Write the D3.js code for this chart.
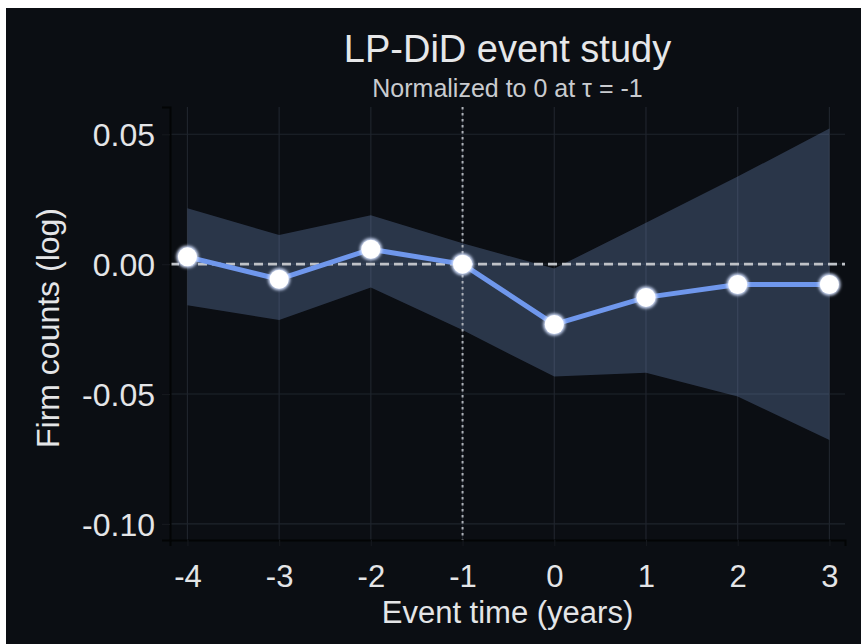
<!DOCTYPE html>
<html>
<head>
<meta charset="utf-8">
<script src="https://cdn.jsdelivr.net/npm/d3@7"></script>
<style>
  body { margin: 0; background: #ffffff; }
  svg { display: block; font-family: "Liberation Sans", Arial, sans-serif; }
</style>
</head>
<body>
<script>
// event study data
var eventTimes = [-4, -3, -2, -1, 0, 1, 2, 3];
var estimates  = [0.0028, -0.0058, 0.0057, 0.0, -0.0232, -0.0128, -0.0078, -0.0078];
var upperCI    = [0.0215, 0.0112, 0.0188, 0.0080, -0.0017, 0.0159, 0.0337, 0.0522];
var lowerCI    = [-0.0158, -0.0215, -0.0090, -0.0254, -0.0433, -0.0418, -0.0510, -0.0677];
var yTicks = [0.05, 0.00, -0.05, -0.10];
var xTicks = [-4, -3, -2, -1, 0, 1, 2, 3];
var refTime = -1;

var width = 861, height = 644;
var margin = {top: 107, left: 170, right: 16, bottom: 104};

var svg = d3.select("body").append("svg")
    .attr("width", width)
    .attr("height", height);

// dark figure background (thin white border on the top/left like the source)
svg.append("rect")
    .attr("x", 6).attr("y", 8)
    .attr("width", width - 6).attr("height", height - 8)
    .attr("fill", "#0b0e13");

var x = d3.scaleLinear()
    .domain([-4.19, 3.17])
    .range([margin.left, width - margin.right]);

var y = d3.scaleLinear()
    .domain([-0.1062, 0.0605])
    .range([height - margin.bottom, margin.top]);

var rows = eventTimes.map(function(t, i) {
    return {t: t, est: estimates[i], hi: upperCI[i], lo: lowerCI[i]};
});

// grid
var grid = svg.append("g").attr("class", "grid");
grid.selectAll("line.v")
    .data(xTicks)
  .enter().append("line")
    .attr("class", "v")
    .attr("x1", function(d) { return x(d); })
    .attr("x2", function(d) { return x(d); })
    .attr("y1", y.range()[1])
    .attr("y2", y.range()[0])
    .attr("stroke", "#1f242c")
    .attr("stroke-width", 1.2);
grid.selectAll("line.h")
    .data(yTicks)
  .enter().append("line")
    .attr("class", "h")
    .attr("x1", x.range()[0])
    .attr("x2", x.range()[1])
    .attr("y1", function(d) { return y(d); })
    .attr("y2", function(d) { return y(d); })
    .attr("stroke", "#1f242c")
    .attr("stroke-width", 1.2);

// confidence band
var band = d3.area()
    .x(function(d) { return x(d.t); })
    .y0(function(d) { return y(d.lo); })
    .y1(function(d) { return y(d.hi); });

svg.append("path")
    .datum(rows)
    .attr("d", band)
    .attr("fill", "#7f9dd8")
    .attr("fill-opacity", 0.28);

// zero line
svg.append("line")
    .attr("x1", x.range()[0])
    .attr("x2", x.range()[1])
    .attr("y1", y(0))
    .attr("y2", y(0))
    .attr("stroke", "#bfc2c7")
    .attr("stroke-width", 2.6)
    .attr("stroke-dasharray", "9,5");

// reference period
svg.append("line")
    .attr("x1", x(refTime))
    .attr("x2", x(refTime))
    .attr("y1", y.range()[1])
    .attr("y2", y.range()[0])
    .attr("stroke", "#aeb2b9")
    .attr("stroke-width", 2)
    .attr("stroke-dasharray", "2.5,3.5");

// axes
var xAxis = d3.axisBottom(x)
    .tickValues(xTicks)
    .tickFormat(d3.format("d"))
    .tickSize(6)
    .tickPadding(19);

var yAxis = d3.axisLeft(y)
    .tickValues(yTicks)
    .tickFormat(function(d) { return d3.format(".2f")(d).replace("−", "-"); })
    .tickSize(8)
    .tickPadding(7);

var gx = svg.append("g")
    .attr("transform", "translate(0," + y.range()[0] + ")")
    .call(xAxis);

var gy = svg.append("g")
    .attr("transform", "translate(" + x.range()[0] + ",0)")
    .call(yAxis);

[gx, gy].forEach(function(g) {
    g.select(".domain").attr("stroke", "#030405").attr("stroke-width", 2);
    g.selectAll(".tick line").attr("stroke", "#15181d").attr("stroke-width", 1.2);
    g.selectAll(".tick text")
        .attr("fill", "#e4e5e7")
        .attr("font-size", 32);
});
gx.selectAll(".tick text")
    .attr("font-size", 31)
    .text(function(d) { return String(d).replace("−", "-"); });
gy.selectAll(".tick text").attr("dy", "0.36em");

// estimates
var line = d3.line()
    .x(function(d) { return x(d.t); })
    .y(function(d) { return y(d.est); });

svg.append("path")
    .datum(rows)
    .attr("d", line)
    .attr("fill", "none")
    .attr("stroke", "#6f97ec")
    .attr("stroke-width", 5)
    .attr("stroke-linejoin", "round");

var defs = svg.append("defs");
var glow = defs.append("filter").attr("id", "glow")
    .attr("x", "-50%").attr("y", "-50%").attr("width", "200%").attr("height", "200%");
glow.append("feGaussianBlur").attr("stdDeviation", 1.8);

svg.selectAll("circle.halo")
    .data(rows)
  .enter().append("circle")
    .attr("class", "halo")
    .attr("cx", function(d) { return x(d.t); })
    .attr("cy", function(d) { return y(d.est); })
    .attr("r", 11)
    .attr("fill", "#d6e2ff")
    .attr("filter", "url(#glow)");

svg.selectAll("circle.pt")
    .data(rows)
  .enter().append("circle")
    .attr("class", "pt")
    .attr("cx", function(d) { return x(d.t); })
    .attr("cy", function(d) { return y(d.est); })
    .attr("r", 9.5)
    .attr("fill", "#ffffff");

// titles
var cx = (x.range()[0] + x.range()[1]) / 2;

svg.append("text")
    .attr("x", cx).attr("y", 62)
    .attr("text-anchor", "middle")
    .attr("fill", "#e6e7e9")
    .attr("font-size", 38)
    .text("LP-DiD event study");

svg.append("text")
    .attr("x", cx).attr("y", 97)
    .attr("text-anchor", "middle")
    .attr("fill", "#c9cbcf")
    .attr("font-size", 25)
    .text("Normalized to 0 at τ = -1");

svg.append("text")
    .attr("x", cx).attr("y", 623)
    .attr("text-anchor", "middle")
    .attr("fill", "#e4e5e7")
    .attr("font-size", 31)
    .text("Event time (years)");

svg.append("text")
    .attr("transform", "translate(59,328) rotate(-90)")
    .attr("text-anchor", "middle")
    .attr("fill", "#e4e5e7")
    .attr("font-size", 32)
    .text("Firm counts (log)");
</script>
</body>
</html>
